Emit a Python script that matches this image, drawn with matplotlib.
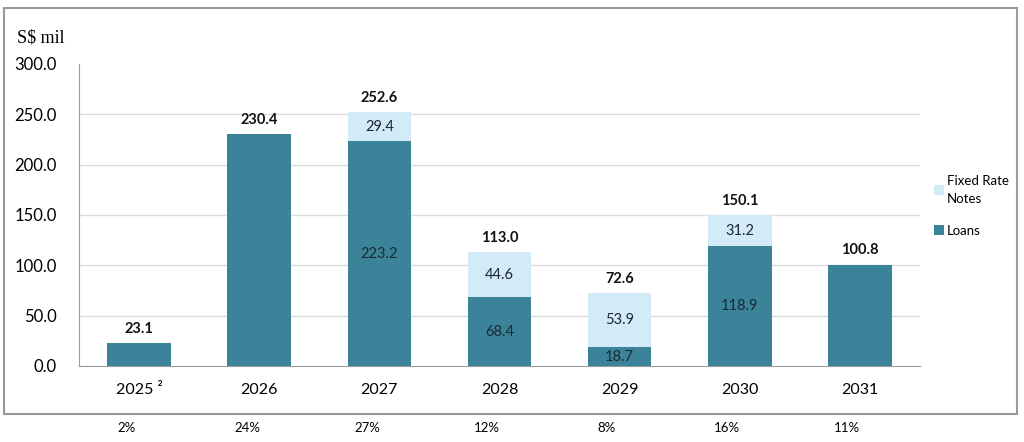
import matplotlib.pyplot as plt
from matplotlib.patches import Rectangle
import numpy as np

years = ["2025 ²", "2026", "2027", "2028", "2029", "2030", "2031"]
loans = [23.1, 230.4, 223.2, 68.4, 18.7, 118.9, 100.8]
notes = [0.0, 0.0, 29.4, 44.6, 53.9, 31.2, 0.0]
totals = [23.1, 230.4, 252.6, 113.0, 72.6, 150.1, 100.8]
shares = ["2%", "24%", "27%", "12%", "8%", "16%", "11%"]
yticks = [0, 50, 100, 150, 200, 250, 300]

teal = "#3a8398"
light = "#d3ebf9"
txt = "#1b2733"

plt.rcParams['font.family'] = ['Lato', 'DejaVu Sans']

fig = plt.figure(figsize=(10.24, 4.42), dpi=100)
ax = fig.add_axes([79/1024, 1-366/442, (920-79)/1024, (366-64)/442])

x = np.arange(len(years))
w = 0.53
ax.bar(x, loans, w, color=teal, label="Loans", zorder=3)
ax.bar(x, notes, w, bottom=loans, color=light, label="Fixed Rate\nNotes", zorder=3)

for i in range(len(years)):
    ax.text(x[i], totals[i] + 7, f"{totals[i]:.1f}", ha="center", va="bottom",
            fontsize=10.5, fontweight="bold", color="#111111")
    if notes[i] > 0:
        ax.text(x[i], loans[i] / 2, f"{loans[i]:.1f}", ha="center", va="center",
                fontsize=10.5, color=txt, zorder=4)
        ax.text(x[i], loans[i] + notes[i] / 2, f"{notes[i]:.1f}", ha="center",
                va="center", fontsize=10.5, color=txt, zorder=4)

for v in yticks[1:-1]:
    ax.axhline(v, color="#dcdcdc", lw=1, zorder=1)

ax.set_xlim(-0.5, len(years) - 0.5)
ax.set_ylim(0, 300)
ax.set_yticks(yticks)
ax.set_yticklabels([f"{v:.1f}" for v in yticks], fontsize=12)
ax.set_xticks(x)
ax.set_xticklabels(years, fontsize=11.5)
ax.tick_params(axis="both", length=0)
ax.tick_params(axis="y", pad=16)
ax.tick_params(axis="x", pad=12)
for s in ["top", "right"]:
    ax.spines[s].set_visible(False)
ax.spines["left"].set_color("#9a9a9a")
ax.spines["bottom"].set_color("#9a9a9a")

fig.text(17/1024, 1-38/442, "S$ mil", fontsize=13, family="Liberation Serif",
         va="center", ha="left")

for i, s in enumerate(shares):
    px = 139 + 120 * i - 12
    fig.text(px/1024, 1-428/442, s, fontsize=9.5, ha="center", va="center")

h, l = ax.get_legend_handles_labels()
leg = fig.legend(h[::-1], l[::-1], loc="upper left",
                 bbox_to_anchor=(922/1024, 1-163/442),
                 frameon=False, fontsize=9.5, handlelength=0.8, handleheight=0.8,
                 handletextpad=0.2, labelspacing=1.5)
for t in leg.get_texts():
    t.set_linespacing(1.6)

fig.add_artist(Rectangle((4/1024, 1-414/442), 1013/1024, 406/442,
                         transform=fig.transFigure, fill=False,
                         edgecolor="#999999", lw=1.5))

plt.savefig("out.png")
